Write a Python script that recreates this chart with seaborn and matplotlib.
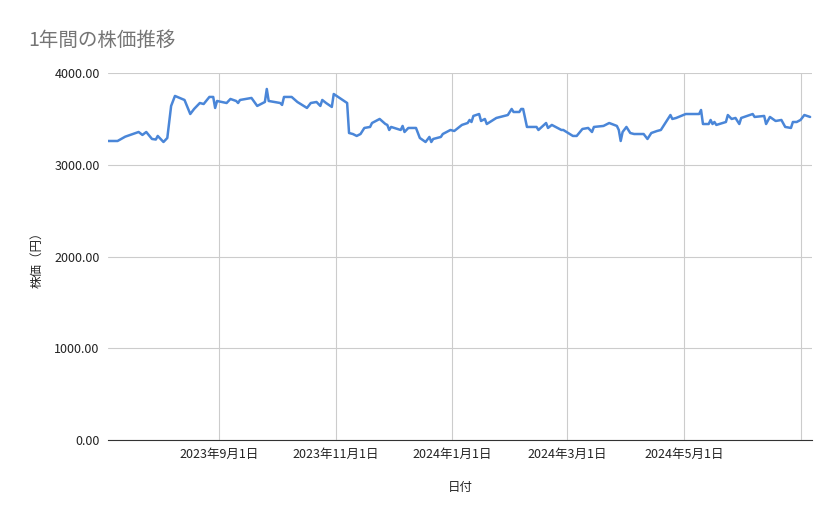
import pandas as pd
import matplotlib.pyplot as plt
import matplotlib.ticker as mticker
import seaborn as sns

# days since 2023-07-05 and closing price
days = [0, 5, 9, 16, 18, 20, 23, 25, 26, 29, 31, 33, 35, 40, 43, 45, 48, 50, 53, 55,
        56, 57, 62, 64, 67, 68, 69, 75, 78, 82, 83, 84, 90, 91, 92, 96, 99, 104, 106, 109,
        111, 112, 114, 117, 118, 125, 126, 128, 130, 132, 134, 137, 138, 142, 145, 146, 147, 148, 153, 154,
        155, 157, 161, 163, 166, 168, 169, 170, 174, 175, 179, 181, 185, 188, 189, 190, 191, 194, 195, 197,
        198, 203, 209, 211, 212, 215, 216, 217, 219, 224, 225, 229, 230, 232, 237, 238, 243, 245, 248, 251,
        253, 254, 259, 262, 266, 267, 268, 269, 271, 273, 275, 280, 282, 284, 287, 289, 294, 295, 297, 302,
        309, 310, 311, 314, 315, 316, 317, 318, 323, 324, 326, 328, 330, 331, 337, 338, 343, 344, 346, 349,
        352, 354, 357, 358, 360, 362, 364, 367]
prices = [3259, 3259, 3306, 3357, 3325, 3357, 3281, 3275, 3314, 3248, 3292, 3641, 3750, 3706, 3553, 3608, 3673, 3662, 3739, 3739,
          3619, 3695, 3673, 3717, 3695, 3673, 3706, 3728, 3641, 3684, 3826, 3695, 3673, 3652, 3739, 3739, 3684, 3619, 3673, 3684,
          3641, 3706, 3673, 3630, 3771, 3673, 3346, 3335, 3314, 3335, 3401, 3412, 3455, 3499, 3444, 3434, 3379, 3412, 3379, 3423,
          3357, 3401, 3401, 3292, 3248, 3303, 3248, 3281, 3303, 3335, 3379, 3368, 3434, 3455, 3488, 3466, 3532, 3553, 3477, 3499,
          3444, 3510, 3542, 3608, 3575, 3575, 3608, 3608, 3412, 3412, 3379, 3455, 3401, 3434, 3379, 3379, 3314, 3314, 3390, 3401,
          3357, 3412, 3423, 3455, 3423, 3379, 3259, 3357, 3412, 3346, 3335, 3335, 3281, 3346, 3368, 3379, 3542, 3499, 3510, 3553,
          3553, 3597, 3444, 3444, 3488, 3444, 3466, 3434, 3466, 3542, 3499, 3510, 3444, 3510, 3553, 3521, 3532, 3444, 3521, 3477,
          3488, 3412, 3401, 3466, 3466, 3488, 3542, 3521]

x_ticks = ["2023-09-01", "2023-11-01", "2024-01-01", "2024-03-01", "2024-05-01", "2024-07-01"]
x_labels = ["2023年9月1日", "2023年11月1日", "2024年1月1日", "2024年3月1日", "2024年5月1日", ""]

start = pd.Timestamp("2023-07-05")
df = pd.DataFrame({"date": start + pd.to_timedelta(days, unit="D"), "price": prices})

sns.set_style("white")
plt.rcParams["font.family"] = ["Noto Sans CJK JP", "DejaVu Sans"]

fig = plt.figure(figsize=(8.39, 5.19), dpi=100)
ax = fig.add_axes([108 / 839, 1 - 440 / 519, (812 - 108) / 839, (440 - 73) / 519])
sns.lineplot(data=df, x="date", y="price", ax=ax, color="#4a86d8", linewidth=1.8)

ax.set_ylim(0, 4000)
ax.set_xlim(start, start + pd.Timedelta(days=368))
ax.set_yticks([0, 1000, 2000, 3000, 4000])
ax.yaxis.set_major_formatter(mticker.FuncFormatter(lambda v, p: f"{v:.2f}"))
ax.set_xticks(pd.to_datetime(x_ticks))
ax.set_xticklabels(x_labels)
ax.grid(True, color="#cccccc", linewidth=0.8)
ax.tick_params(axis="both", length=0, labelsize=9, colors="#222222", pad=6)
for s in ["top", "right", "left"]:
    ax.spines[s].set_visible(False)
ax.spines["bottom"].set_color("#333333")

ax.set_xlabel("日付", fontsize=9, labelpad=14)
ax.set_ylabel("株価（円）", fontsize=9, labelpad=8)
fig.text(28 / 839, 1 - 40 / 519, "1年間の株価推移", fontsize=14, color="#757575", va="center")

plt.savefig("out.png", dpi=100)
